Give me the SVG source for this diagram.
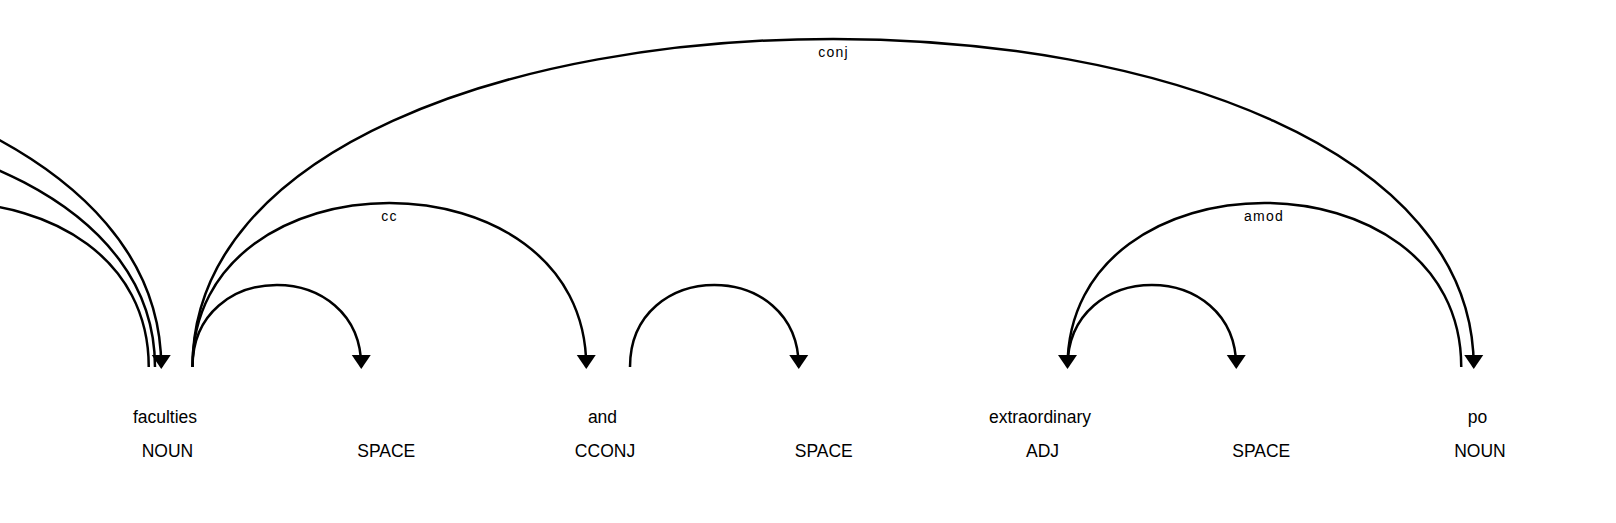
<svg xmlns="http://www.w3.org/2000/svg" width="1616" height="523" viewBox="0 0 1616 523">
<style>
  .word { font-family: "Liberation Sans", Arial, sans-serif; font-size: 17.5px; fill: #000; text-anchor: middle; }
  .arc { fill: none; stroke: #000; stroke-width: 2.5px; }
  .arrow { fill: #000; stroke: none; }
  .label { font-family: "Liberation Sans", Arial, sans-serif; font-size: 14px; letter-spacing: 1.25px; fill: #000; text-anchor: middle; }
</style>
<rect x="0" y="0" width="1616" height="523" fill="#fff"/>
<g id="connectors">
  <g id="arc-left-4">
    <path class="arc" d="M-1120,367 C-1120,-70.5 161.25,-70.5 161.25,367"/>
    <path class="arrow" d="M161.25,369 L151.75,355 L170.75,355 Z"/>
  </g>
  <g id="arc-left-3">
    <path class="arc" d="M-682.5,367 C-682.5,38.875 155,38.875 155,367"/>
  </g>
  <g id="arc-left-2">
    <path class="arc" d="M-245,367 C-245,148.25 148.75,148.25 148.75,367"/>
  </g>
  <g id="arc-faculties-space1">
    <path class="arc" d="M192.5,367 C192.5,257.625 361.25,257.625 361.25,367"/>
    <path class="arrow" d="M361.25,369 L351.75,355 L370.75,355 Z"/>
  </g>
  <g id="arc-cc">
    <path class="arc" d="M192.5,367 C192.5,148.25 586.25,148.25 586.25,367"/>
    <path class="arrow" d="M586.25,369 L576.75,355 L595.75,355 Z"/>
    <text class="label" x="389.5" y="220.5">cc</text>
  </g>
  <g id="arc-and-space2">
    <path class="arc" d="M630,367 C630,257.625 798.75,257.625 798.75,367"/>
    <path class="arrow" d="M798.75,369 L789.25,355 L808.25,355 Z"/>
  </g>
  <g id="arc-conj">
    <path class="arc" d="M192.5,367 C192.5,-70.5 1473.75,-70.5 1473.75,367"/>
    <path class="arrow" d="M1473.75,369 L1464.25,355 L1483.25,355 Z"/>
    <text class="label" x="833.5" y="56.5">conj</text>
  </g>
  <g id="arc-extra-space3">
    <path class="arc" d="M1067.5,367 C1067.5,257.625 1236.25,257.625 1236.25,367"/>
    <path class="arrow" d="M1236.25,369 L1226.75,355 L1245.75,355 Z"/>
  </g>
  <g id="arc-amod">
    <path class="arc" d="M1067.5,367 C1067.5,148.25 1461.25,148.25 1461.25,367"/>
    <path class="arrow" d="M1067.5,369 L1058,355 L1077,355 Z"/>
    <text class="label" x="1264" y="220.5">amod</text>
  </g>
</g>
<g id="token-faculties"><text class="word" x="165" y="422.5">faculties</text><text class="word" x="167.5" y="456.5">NOUN</text></g>
<g id="token-space1"><text class="word" x="386.25" y="456.5">SPACE</text></g>
<g id="token-and"><text class="word" x="602.5" y="422.5">and</text><text class="word" x="605" y="456.5">CCONJ</text></g>
<g id="token-space2"><text class="word" x="823.75" y="456.5">SPACE</text></g>
<g id="token-extraordinary"><text class="word" x="1040" y="422.5">extraordinary</text><text class="word" x="1042.5" y="456.5">ADJ</text></g>
<g id="token-space3"><text class="word" x="1261.25" y="456.5">SPACE</text></g>
<g id="token-po"><text class="word" x="1477.5" y="422.5">po</text><text class="word" x="1480" y="456.5">NOUN</text></g>
</svg>
